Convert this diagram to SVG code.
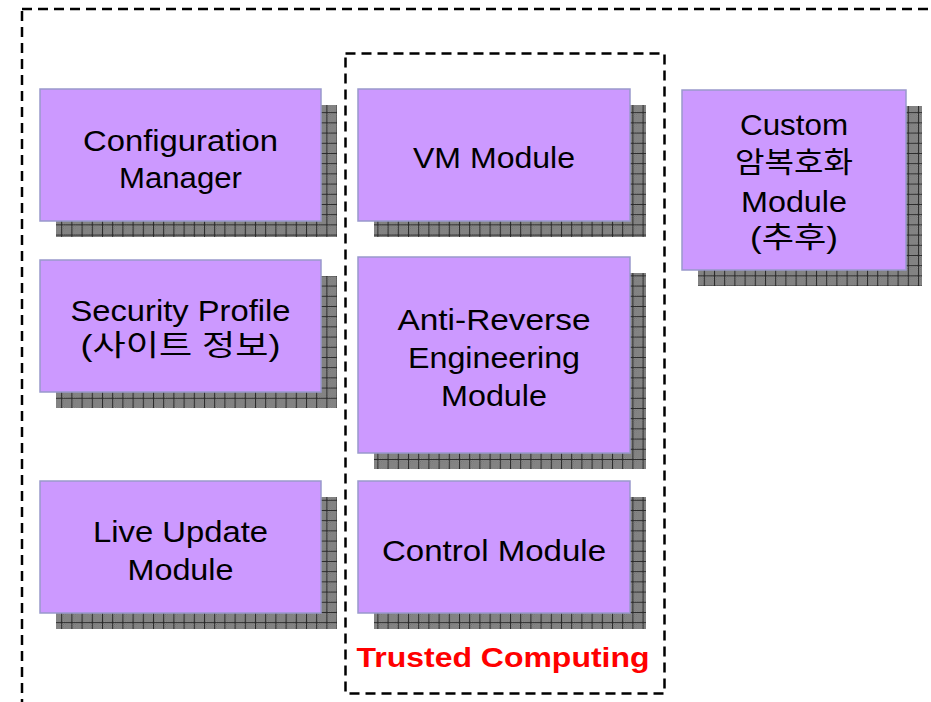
<svg xmlns="http://www.w3.org/2000/svg" width="931" height="702" viewBox="0 0 931 702">
<style>
.box{fill:#CC99FF;stroke:#9999CC;stroke-width:1.5}
.shadow{fill:url(#grid)}
.lbl{font-family:"Liberation Sans","Noto Sans CJK KR",sans-serif;font-size:29px;fill:#000;text-anchor:middle}
.dash{fill:none;stroke:#000;stroke-width:2.5;stroke-dasharray:10 6}
.tc{font-family:"Liberation Sans","Noto Sans CJK KR",sans-serif;font-size:28px;font-weight:bold;fill:#FF0000;text-anchor:middle}
</style>
<defs>
<pattern id="dither" x="0" y="0" width="2" height="2" patternUnits="userSpaceOnUse">
<rect width="2" height="2" fill="#9a9a9a"/>
<rect width="1" height="1" fill="#6a6a6a"/>
<rect x="1" y="1" width="1" height="1" fill="#6a6a6a"/>
</pattern>
<pattern id="grid" x="0" y="0" width="10.2" height="10.2" patternUnits="userSpaceOnUse">
<rect width="10.2" height="10.2" fill="url(#dither)"/>
<path d="M0.5 0V10.2M0 0.5H10.2" stroke="#2a2a2a" stroke-width="1" fill="none"/>
</pattern>
</defs>
<rect width="931" height="702" fill="#fff"/>
<g id="containers">
<rect class="dash" x="22" y="9" width="950" height="760"/>
<rect class="dash" x="345.5" y="53.5" width="319" height="640"/>
</g>
<g id="connectors"></g>
<g id="config-manager">
<rect class="shadow" x="56" y="105" width="281" height="132"/>
<rect class="box" x="40" y="89" width="281" height="132"/>
<text class="lbl" x="180.5" y="150.5" textLength="195" lengthAdjust="spacingAndGlyphs">Configuration</text>
<text class="lbl" x="180.5" y="188" textLength="123" lengthAdjust="spacingAndGlyphs">Manager</text>
</g>
<g id="security-profile">
<rect class="shadow" x="56" y="276" width="281" height="132"/>
<rect class="box" x="40" y="260" width="281" height="132"/>
<text class="lbl" x="180.5" y="320.5" textLength="220" lengthAdjust="spacingAndGlyphs">Security Profile</text>
<text class="lbl" x="180.5" y="356" textLength="200" lengthAdjust="spacingAndGlyphs">(사이트 정보)</text>
</g>
<g id="live-update">
<rect class="shadow" x="56" y="497" width="281" height="132"/>
<rect class="box" x="40" y="481" width="281" height="132"/>
<text class="lbl" x="180.5" y="541.5" textLength="175" lengthAdjust="spacingAndGlyphs">Live Update</text>
<text class="lbl" x="180.5" y="580" textLength="106" lengthAdjust="spacingAndGlyphs">Module</text>
</g>
<g id="vm-module">
<rect class="shadow" x="374" y="105" width="272" height="132"/>
<rect class="box" x="358" y="89" width="272" height="132"/>
<text class="lbl" x="494" y="168" textLength="162" lengthAdjust="spacingAndGlyphs">VM Module</text>
</g>
<g id="anti-reverse">
<rect class="shadow" x="374" y="273" width="272" height="196"/>
<rect class="box" x="358" y="257" width="272" height="196"/>
<text class="lbl" x="494" y="329.5" textLength="193" lengthAdjust="spacingAndGlyphs">Anti-Reverse</text>
<text class="lbl" x="494" y="367.5" textLength="172" lengthAdjust="spacingAndGlyphs">Engineering</text>
<text class="lbl" x="494" y="405.5" textLength="106" lengthAdjust="spacingAndGlyphs">Module</text>
</g>
<g id="control-module">
<rect class="shadow" x="374" y="497" width="272" height="132"/>
<rect class="box" x="358" y="481" width="272" height="132"/>
<text class="lbl" x="494" y="560.5" textLength="224" lengthAdjust="spacingAndGlyphs">Control Module</text>
</g>
<g id="custom-module">
<rect class="shadow" x="698" y="106" width="224" height="180"/>
<rect class="box" x="682" y="90" width="224" height="180"/>
<text class="lbl" x="794" y="135" textLength="108" lengthAdjust="spacingAndGlyphs">Custom</text>
<text class="lbl" x="794" y="173" textLength="118" lengthAdjust="spacingAndGlyphs">암복호화</text>
<text class="lbl" x="794" y="212" textLength="106" lengthAdjust="spacingAndGlyphs">Module</text>
<text class="lbl" x="794" y="248" textLength="88" lengthAdjust="spacingAndGlyphs">(추후)</text>
</g>
<g id="trusted-computing-label">
<text class="tc" x="503" y="667" textLength="293" lengthAdjust="spacingAndGlyphs">Trusted Computing</text>
</g>
</svg>
